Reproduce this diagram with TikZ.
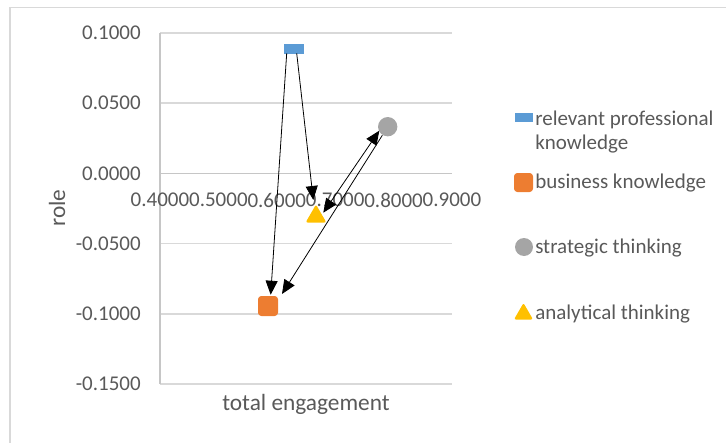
\documentclass[tikz,border=0pt]{standalone}
\usepackage{fontspec}
\setmainfont{Carlito}
\usetikzlibrary{arrows.meta,shapes.geometric}
\definecolor{txt}{HTML}{595959}
\definecolor{gridc}{HTML}{D9D9D9}
\definecolor{axisc}{HTML}{C6C6C6}
\definecolor{cblue}{HTML}{5B9BD5}
\definecolor{corange}{HTML}{ED7D31}
\definecolor{cgray}{HTML}{A5A5A5}
\definecolor{cyellow}{HTML}{FFC000}
\begin{document}
\begin{tikzpicture}[x=0.75pt,y=-0.75pt,
  ticklbl/.style={font=\fontsize{15.75}{19}\selectfont, text=txt, inner sep=0pt},
  ttl/.style={font=\fontsize{17.5}{21}\selectfont, text=txt, inner sep=0pt},
  gridln/.style={draw=gridc, line width=1.2pt},
  axisln/.style={draw=axisc, line width=1.2pt},
  conn/.style={draw=black, line width=0.6pt, -{Triangle[length=10.5pt,width=9pt]}},
  bconn/.style={draw=black, line width=0.6pt, {Triangle[length=10.5pt,width=9pt]}-{Triangle[length=10.5pt,width=9pt]}},
  mblue/.style={fill=cblue, rectangle, inner sep=0pt, minimum width=15pt, minimum height=7.5pt},
  morange/.style={fill=corange, rectangle, rounded corners=2.5pt, inner sep=0pt, minimum size=15pt},
  mgray/.style={fill=cgray, circle, inner sep=0pt, minimum size=14.5pt},
  myellow/.style={fill=cyellow, regular polygon, regular polygon sides=3, rounded corners=1.5pt, inner sep=0pt, minimum size=18pt},
  legtxt/.style={font=\fontsize{15.75}{18.5}\selectfont, text=txt, inner sep=0pt, align=left}]
\useasboundingbox (0,0) rectangle (726,443);
% outer chart border
\draw[gridc, line width=1.1pt] (10,443) -- (10,7.5) -- (726,7.5);
% grid lines
\foreach \yy in {32.7,103.0,243.6,313.9,384.2}
  \draw[gridln] (160,\yy) -- (452,\yy);
\draw[axisln] (160,173.3) -- (452,173.3);
\draw[axisln] (160,32.7) -- (160,384.2);
% y tick labels
\foreach \yy/\lab in {32.7/0.1000,103.0/0.0500,173.3/0.0000,243.6/-0.0500,313.9/-0.1000,384.2/-0.1500}
  \node[ticklbl, anchor=east] (yl\lab) at (141,\yy) {\lab};
% x tick labels
\foreach \i/\lab in {0/0.4000,1/0.5000,2/0.6000,3/0.7000,4/0.8000,5/0.9000}
  \node[ticklbl] (xl\i) at ({160+58.4*\i},200) {\lab};
% axis titles
\node[ttl, rotate=90] (ytitle) at (57,208) {role};
\node[ttl] (xtitle) at (306,404) {total engagement};
% data markers
\node[mblue] (rpk) at (294,49.3) {};
\node[morange] (bk) at (268,306) {};
\node[mgray] (st) at (387.7,126.7) {};
\node[myellow] (at) at (316,216.5) {};
% connectors
\draw[conn] ([shift={(-7.3,-1.3)}]rpk.south) -- ([shift={(2.7,-1)}]bk.north);
\draw[conn] ([shift={(2.7,-1.3)}]rpk.south) -- ([shift={(-2.7,-16.5)}]at.center);
\draw[bconn] ([shift={(7.3,-3.8)}]at.center) -- ([shift={(-8.4,4)}]st.center);
\draw[conn] ([shift={(-5.3,8.5)}]st.center) -- ([shift={(14,-12)}]bk.center);
% legend
\node[mblue, minimum width=13.5pt, minimum height=6.75pt] (lg1) at (523.5,117.2) {};
\node[legtxt, anchor=west] (lt1) at (535,132) {relevant professional\\knowledge};
\node[morange, minimum size=14.25pt] (lg2) at (523.5,182.5) {};
\node[legtxt, anchor=base west] (lt2) at (535,188.3) {business knowledge};
\node[mgray, minimum size=13.5pt] (lg3) at (524,247) {};
\node[legtxt, anchor=base west] (lt3) at (535,253.3) {strategic thinking};
\node[myellow, minimum size=16.5pt] (lg4) at (523.5,314) {};
\node[legtxt, anchor=base west] (lt4) at (535,319.3) {analytical thinking};
\end{tikzpicture}
\end{document}
